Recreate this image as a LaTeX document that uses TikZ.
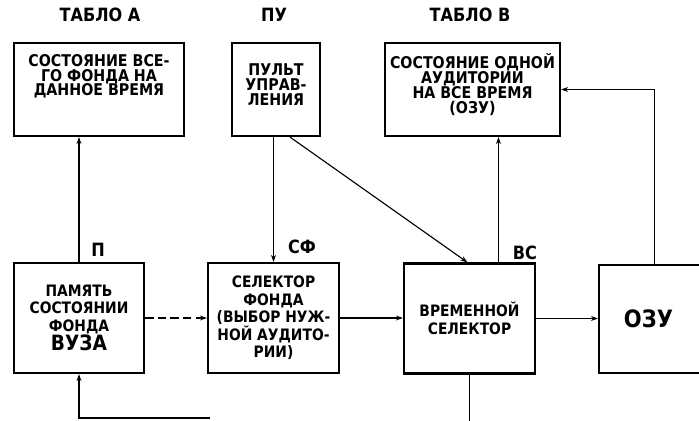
\documentclass[tikz,border=0pt]{standalone}
\usepackage{fontspec}
\setmainfont{DejaVu Sans}[FakeStretch=0.88]
\usetikzlibrary{calc,arrows.meta}
\newcommand\boxfont{\bfseries\fontsize{11.5}{10.6}\selectfont}
\newcommand\lowfont{\bfseries\fontsize{11.2}{12.5}\selectfont}

\begin{document}
\begin{tikzpicture}[x=0.025cm,y=-0.025cm,
		box/.style={draw, line width=1.5pt, align=center, inner sep=0pt, font=\boxfont},
		link/.style={line width=0.8pt, -{Stealth[length=5pt,width=3.5pt]}},
		tag/.style={font=\bfseries\fontsize{13}{14}\selectfont}]
		%%%%% START %%%%%
		\useasboundingbox (0,0) rectangle (699,421);
		
		\node[tag] (labA) at (100,15) {ТАБЛО А};
		\node[tag] (labPU) at (274,15) {ПУ};
		\node[tag] (labB) at (470,15) {ТАБЛО В};
		
		\node[box, minimum width=4.25cm, minimum height=2.325cm] (tabA) at (99,89.5) {СОСТОЯНИЕ ВСЕ-\\ГО ФОНДА НА\\ДАННОЕ ВРЕМЯ\\[10pt] \mbox{}};
		\node[box, minimum width=2.2cm, minimum height=2.325cm] (pu) at (276,89.5) {ПУЛЬТ\\УПРАВ-\\ЛЕНИЯ\\[-4pt] \mbox{}};
		\node[box, minimum width=4.375cm, minimum height=2.325cm] (tabB) at (472.5,89.5) {СОСТОЯНИЕ ОДНОЙ\\АУДИТОРИИ\\НА ВСЕ ВРЕМЯ\\(ОЗУ)\\[-2pt] \mbox{}};
		
		\node[box, font=\lowfont, minimum width=3.25cm, minimum height=2.75cm] (pam) at (79,318) {ПАМЯТЬ\\СОСТОЯНИИ\\ФОНДА\\{\fontsize{15}{15}\selectfont ВУЗА}};
		\node[box, font=\lowfont, minimum width=3.275cm, minimum height=2.75cm] (sf) at (273.5,318) {СЕЛЕКТОР\\ФОНДА\\(ВЫБОР НУЖ-\\НОЙ АУДИТО-\\РИИ)};
		\node[box, font=\lowfont, minimum width=3.275cm, minimum height=2.75cm] (vs) at (469.5,318.5) {ВРЕМЕННОЙ\\СЕЛЕКТОР};
		\node[box, font=\bfseries\fontsize{17}{18}\selectfont, minimum width=2.775cm, minimum height=2.7cm] (ozu) at (654.5,319) {ОЗУ\hspace{0.3cm}};
		
		\node[tag] (labP) at (98,250) {П};
		\node[tag] (labSF) at (302,247) {СФ};
		\node[tag] (labVS) at (525,253) {ВС};
		
		\coordinate (vsup) at ($(vs.north)+(29,0)$);
		\coordinate (bot) at (0,430);
		\coordinate (ret) at (210,418);
		
		\draw[link] (pam.north) -- (pam.north |- tabA.south);
		\draw[link] (sf.north |- pu.south) -- (sf.north);
		\draw[link] ($(pu.south)+(14,0)$) -- ($(vs.north)+(-2,0)$);
		\draw[link] (vsup) -- (vsup |- tabB.south);
		\draw[link] (ozu.north) -- (ozu.north |- tabB.east) -- (tabB.east);
		
		\draw[link, dash pattern=on 6pt off 3pt] (pam.east) -- (pam.east -| sf.west);
		\draw[link] (sf.east) -- (sf.east -| vs.west);
		\draw[link] (vs.east) -- (vs.east -| ozu.west);
		
		\draw[line width=0.8pt] (vs.south) -- (vs.south |- bot);
		\draw[link] (ret) -- (ret -| pam.south) -- (pam.south);
		%%%%% END %%%%%
\end{tikzpicture}
\end{document}
